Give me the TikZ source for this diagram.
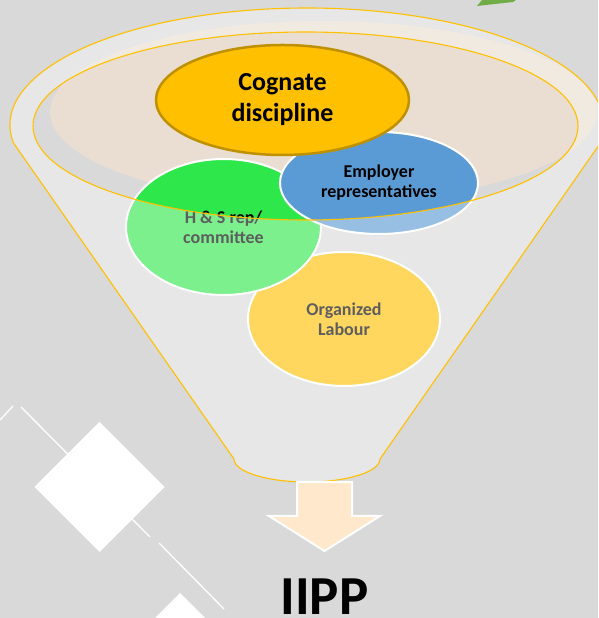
\documentclass[tikz,border=0pt]{standalone}
\usepackage{fontspec}
\setmainfont{Carlito}
\usetikzlibrary{shapes.geometric}
\definecolor{bg}{HTML}{D9D9D9}
\definecolor{rim}{HTML}{FFC000}
\definecolor{beige}{HTML}{E9DED1}
\definecolor{gold}{HTML}{FFC000}
\definecolor{golddark}{HTML}{BF9000}
\definecolor{blueE}{HTML}{5B9BD5}
\definecolor{greenH}{HTML}{2EE84B}
\definecolor{arrowfill}{HTML}{FFE8CC}
\definecolor{leaf}{HTML}{70AD47}
\tikzset{
  bubble/.style={ellipse, inner sep=0pt, align=center, font=\bfseries\fontsize{18}{20}\selectfont, draw=white, line width=2pt},
  deco/.style={draw=white, line width=1.3pt},
  rimline/.style={draw=rim, line width=1.1pt}
}
\begin{document}
\begin{tikzpicture}[x=1pt,y=1pt]
\useasboundingbox (0,0) rectangle (598,618);
\clip (0,0) rectangle (598,618);
\fill[bg] (0,0) rectangle (598,618);
% decorations
\draw[deco] (21,211) -- (150,81);
\draw[deco] (159,75) -- (224,9);
\draw[deco] (0,198) -- (13,212);
\fill[white] (99.5,196) -- (164.5,131) -- (99.5,66) -- (34.5,131) -- cycle;
\fill[white] (180,25) -- (245,-40) -- (180,-105) -- (115,-40) -- cycle;
\fill[leaf] (477,612) -- (482,618) -- (516,618) -- (513,616) -- cycle;
% liquid surface
\fill[beige] (323.5,506) ellipse[x radius=273.5pt, y radius=91pt];
% bubbles
\node[bubble, fill=gold, minimum width=192pt, minimum height=134pt] (org) at (344,299) {Organized\\Labour};
\node[bubble, fill=greenH, minimum width=195pt, minimum height=136pt] (hs) at (223.5,391) {H \& S rep/\\committee};
\node[bubble, fill=blueE, minimum width=198pt, minimum height=102pt] (emp) at (379,435) {Employer\\representatives};
\node[ellipse, inner sep=0pt, align=center, fill=gold, draw=golddark, line width=2.5pt, minimum width=253pt, minimum height=110pt, font=\bfseries\fontsize{26}{31}\selectfont] (cog) at (282.5,518) {Cognate\\discipline};
% funnel front surface
\fill[white, fill opacity=0.37, even odd rule]
  (13.5,475) arc[start angle=188.85, end angle=-8.85, x radius=297pt, y radius=117pt]
  -- (380,159) arc[start angle=0, end angle=-180, x radius=73pt, y radius=23pt] -- cycle
  (305.5,492) ellipse[x radius=272.5pt, y radius=94pt];
\draw[rimline, line join=round]
  (13.5,475) arc[start angle=188.85, end angle=-8.85, x radius=297pt, y radius=117pt]
  -- (380,159) arc[start angle=0, end angle=-180, x radius=73pt, y radius=23pt] -- cycle;
\draw[rimline] (305.5,492) ellipse[x radius=272.5pt, y radius=94pt];
% output arrow
\draw[white, line width=2pt, fill=arrowfill] (297,136) -- (352,136) -- (352,102) -- (380,102) -- (324.5,67) -- (269,102) -- (297,102) -- cycle;
\node[anchor=base, inner sep=0pt, font=\bfseries\fontsize{55}{60}\selectfont] (iipp) at (324.5,3.5) {IIPP};
\end{tikzpicture}
\end{document}
